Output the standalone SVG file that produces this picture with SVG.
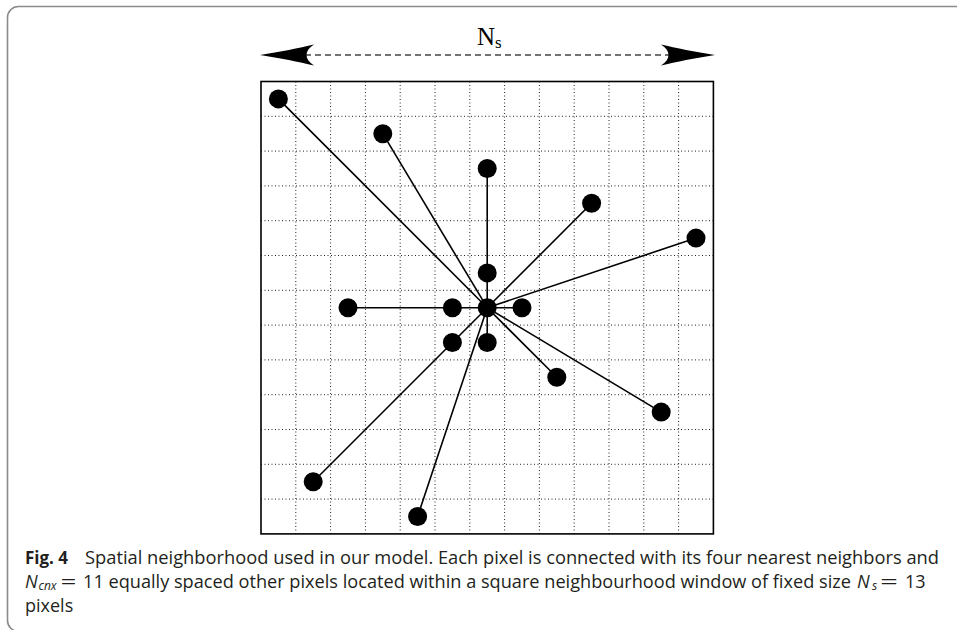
<svg xmlns="http://www.w3.org/2000/svg" width="957" height="630" viewBox="0 0 957 630">
<style>
.frame{fill:none;stroke:#8a8a8a;stroke-width:1.6}
.grid{stroke:#222;stroke-width:1;stroke-dasharray:1 2.5;fill:none}
.border{fill:none;stroke:#000;stroke-width:1.6}
.conn{stroke:#000;stroke-width:1.6;fill:none}
.dot{fill:#000}
.head{fill:#000}
.dash{stroke:#444;stroke-width:1.6;stroke-dasharray:6 4;fill:none}
.cap{font-family:"Open Sans","Noto Sans","Liberation Sans",sans-serif;font-size:18px;fill:#231f20}
.lbl{font-family:"Liberation Serif","Times New Roman",serif;fill:#000}
.it{font-style:italic}
.sub{font-style:italic;font-size:12px}
</style>
<rect class="frame" x="7.5" y="6.5" width="1000" height="625" rx="11"/>

<g id="dimension">
  <line class="dash" x1="305" y1="55" x2="670" y2="55"/>
  <path class="head" d="M260,55 C280,52 299,48 314,44.5 C304,51 304,59 314,65.5 C299,62 280,58 260,55 Z"/>
  <path class="head" d="M715,55 C695,52 676,48 661,44.5 C671,51 671,59 661,65.5 C676,62 695,58 715,55 Z"/>
  <text class="lbl" x="477" y="45" font-size="25">N</text>
  <text class="lbl" x="495" y="48" font-size="17">s</text>
</g>

<g id="grid">
  <path class="grid" d="M295.8,81.5V533.9M330.6,81.5V533.9M365.4,81.5V533.9M400.2,81.5V533.9M435,81.5V533.9M469.8,81.5V533.9M504.6,81.5V533.9M539.4,81.5V533.9M574.2,81.5V533.9M609,81.5V533.9M643.8,81.5V533.9M678.6,81.5V533.9"/>
  <path class="grid" d="M261,116.3H713.4M261,151.1H713.4M261,185.9H713.4M261,220.7H713.4M261,255.5H713.4M261,290.3H713.4M261,325.1H713.4M261,359.9H713.4M261,394.7H713.4M261,429.5H713.4M261,464.3H713.4M261,499.1H713.4"/>
  <rect class="border" x="261" y="81.5" width="452.4" height="452.4"/>
</g>

<g id="connectors">
  <line class="conn" x1="487.2" y1="307.7" x2="278.4" y2="98.9"/>
  <line class="conn" x1="487.2" y1="307.7" x2="382.8" y2="133.7"/>
  <line class="conn" x1="487.2" y1="307.7" x2="487.2" y2="168.5"/>
  <line class="conn" x1="487.2" y1="307.7" x2="591.6" y2="203.3"/>
  <line class="conn" x1="487.2" y1="307.7" x2="696" y2="238.1"/>
  <line class="conn" x1="487.2" y1="307.7" x2="348" y2="307.7"/>
  <line class="conn" x1="487.2" y1="307.7" x2="522" y2="307.7"/>
  <line class="conn" x1="487.2" y1="307.7" x2="487.2" y2="342.5"/>
  <line class="conn" x1="487.2" y1="307.7" x2="313.2" y2="481.7"/>
  <line class="conn" x1="487.2" y1="307.7" x2="417.6" y2="516.5"/>
  <line class="conn" x1="487.2" y1="307.7" x2="556.8" y2="377.3"/>
  <line class="conn" x1="487.2" y1="307.7" x2="661.2" y2="412.1"/>
</g>

<g id="center"><circle class="dot" cx="487.2" cy="307.7" r="9.5"/></g>
<g id="n-up"><circle class="dot" cx="487.2" cy="272.9" r="9.5"/></g>
<g id="n-left"><circle class="dot" cx="452.4" cy="307.7" r="9.5"/></g>
<g id="n-right"><circle class="dot" cx="522" cy="307.7" r="9.5"/></g>
<g id="n-down"><circle class="dot" cx="487.2" cy="342.5" r="9.5"/></g>
<g id="p1"><circle class="dot" cx="278.4" cy="98.9" r="9.5"/></g>
<g id="p2"><circle class="dot" cx="382.8" cy="133.7" r="9.5"/></g>
<g id="p3"><circle class="dot" cx="487.2" cy="168.5" r="9.5"/></g>
<g id="p4"><circle class="dot" cx="591.6" cy="203.3" r="9.5"/></g>
<g id="p5"><circle class="dot" cx="696" cy="238.1" r="9.5"/></g>
<g id="p6"><circle class="dot" cx="348" cy="307.7" r="9.5"/></g>
<g id="p7"><circle class="dot" cx="452.4" cy="342.5" r="9.5"/></g>
<g id="p8"><circle class="dot" cx="556.8" cy="377.3" r="9.5"/></g>
<g id="p9"><circle class="dot" cx="661.2" cy="412.1" r="9.5"/></g>
<g id="p10"><circle class="dot" cx="313.2" cy="481.7" r="9.5"/></g>
<g id="p11"><circle class="dot" cx="417.6" cy="516.5" r="9.5"/></g>

<g id="caption">
  <text class="cap" x="25" y="564" font-weight="bold" fill="#000" textLength="43" lengthAdjust="spacingAndGlyphs">Fig. 4</text>
  <text class="cap" x="85" y="564" textLength="854" lengthAdjust="spacingAndGlyphs">Spatial neighborhood used in our model. Each pixel is connected with its four nearest neighbors and</text>
  <text class="cap" y="588"><tspan class="it" x="25">N</tspan><tspan class="sub" x="38.5" dy="1.5">cnx</tspan><tspan x="60.5" dy="-1.5" textLength="16" lengthAdjust="spacingAndGlyphs">=</tspan><tspan x="83" textLength="768" lengthAdjust="spacingAndGlyphs">11 equally spaced other pixels located within a square neighbourhood window of fixed size</tspan><tspan class="it" x="857">N</tspan><tspan class="sub" x="872" dy="1.5">s</tspan><tspan x="880" dy="-1.5" textLength="18" lengthAdjust="spacingAndGlyphs">=</tspan><tspan x="905">13</tspan></text>
  <text class="cap" x="25" y="612">pixels</text>
</g>
</svg>
